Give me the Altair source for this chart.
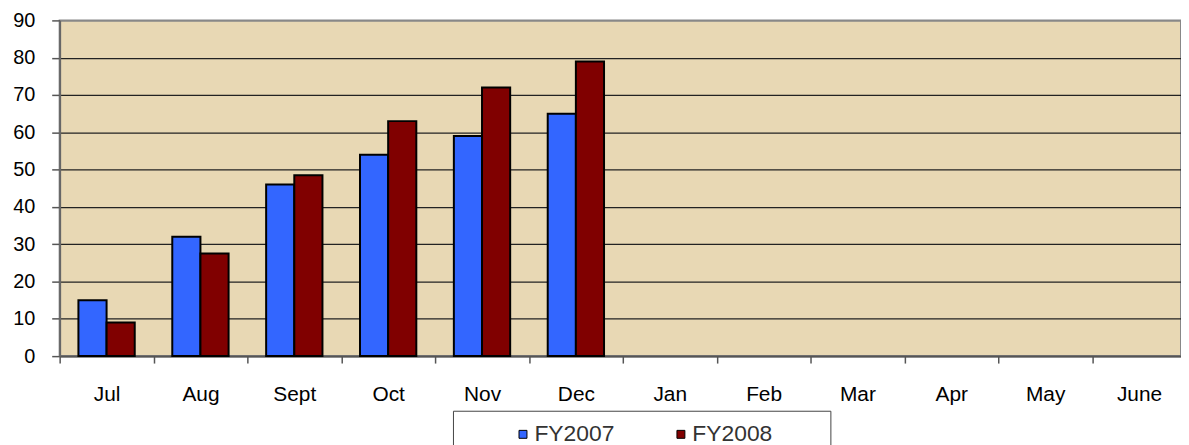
import altair as alt
import pandas as pd

months = ["Jul", "Aug", "Sept", "Oct", "Nov", "Dec", "Jan", "Feb", "Mar", "Apr", "May", "June"]
fy2007 = [15, 32, 46, 54, 59, 65, None, None, None, None, None, None]
fy2008 = [9, 27.5, 48.5, 63, 72, 79, None, None, None, None, None, None]
series = ["FY2007", "FY2008"]
colors = ["#3366FF", "#800000"]
y_ticks = [0, 10, 20, 30, 40, 50, 60, 70, 80, 90]

rows = []
for m, a, b in zip(months, fy2007, fy2008):
    if a is not None:
        rows.append({"month": m, "series": series[0], "value": a})
    if b is not None:
        rows.append({"month": m, "series": series[1], "value": b})
df = pd.DataFrame(rows)

pad_chars = "\u2800\u2002\u2800"
label_expr = f"datum.label + (datum.value == 'FY2008' ? '{pad_chars}' : '')"

chart = alt.Chart(df).mark_bar(stroke="black", strokeWidth=2).encode(
    x=alt.X(
        "month:N",
        sort=months,
        scale=alt.Scale(domain=months, range=[0, 1134], paddingInner=0, paddingOuter=0),
        axis=alt.Axis(
            title=None, labelAngle=0, tickBand="extent", tickSize=7, labelPadding=21,
            labelFontSize=21, labelFont="Liberation Sans", labelColor="black",
            domainColor="#555", domainWidth=2, tickColor="#555", tickWidth=1.5, grid=False,
        ),
    ),
    xOffset=alt.XOffset(
        "series:N",
        scale=alt.Scale(domain=series, paddingInner=0, paddingOuter=0.6667),
    ),
    y=alt.Y(
        "value:Q",
        scale=alt.Scale(domain=[0, 90], nice=False),
        axis=alt.Axis(
            title=None, values=y_ticks, tickSize=8, labelPadding=17,
            labelFontSize=20, labelFont="Liberation Sans", labelColor="black",
            grid=True,
            gridColor={"condition": {"test": "datum.value === 90", "value": "#888888"}, "value": "#222222"},
            gridWidth=1.2, domainColor="#666", domainWidth=2, tickColor="#555", tickWidth=1.5,
        ),
    ),
    color=alt.Color(
        "series:N",
        scale=alt.Scale(domain=series, range=colors),
        legend=alt.Legend(
            title=None, orient="none", legendX=396, legendY=393, direction="horizontal",
            symbolType="square", symbolSize=64, symbolStrokeColor="black", symbolStrokeWidth=1,
            symbolOffset=47, labelOffset=0, columnPadding=8, padding=12,
            strokeColor="#444", fillColor="white",
            labelFontSize=23, labelFont="Liberation Sans", labelColor="#333",
            labelLimit=300,
            labelExpr=label_expr,
        ),
    ),
).properties(
    width=1129,
    height=338,
    autosize=alt.AutoSizeParams(type="none"),
    padding={"left": 52, "top": 11, "right": 0, "bottom": 88},
).configure_view(
    fill="#E8D8B4", stroke="#888888", strokeWidth=2
)

chart.save("out.html", embed_options={"renderer": "svg", "actions": False})
